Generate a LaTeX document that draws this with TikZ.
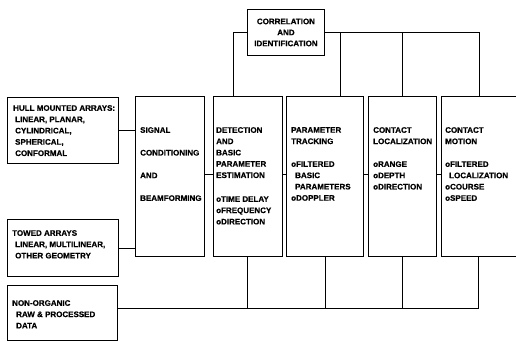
\documentclass[tikz,border=0pt]{standalone}
\usepackage{fontspec}
\setmainfont[FakeBold=0.6]{Liberation Sans}
\begin{document}
\begin{tikzpicture}[x=1pt,y=-1pt,
  box/.style={draw, line width=0.9pt, inner sep=0pt, anchor=north west},
  txt/.style={anchor=north west, inner sep=0pt, align=left, font=\fontsize{8}{11.3}\selectfont\bfseries},
  conn/.style={line width=0.9pt}]
\useasboundingbox (0,0) rectangle (516,342);
\clip (0,0) rectangle (516,342);
% boxes
\node[box, minimum width=77pt, minimum height=46pt, align=center,
      font=\fontsize{8}{11}\selectfont\bfseries] (corr) at (247,9) {CORRELATION\\AND\\IDENTIFICATION};
\node[box, minimum width=111pt, minimum height=66pt] (hull) at (7,97) {};
\node[box, minimum width=111pt, minimum height=57pt] (towed) at (7,219) {};
\node[box, minimum width=110pt, minimum height=55pt] (nonorg) at (7,285) {};
\node[box, minimum width=69pt, minimum height=160pt] (signal) at (135,96) {};
\node[box, minimum width=69pt, minimum height=160pt] (detect) at (213,96) {};
\node[box, minimum width=77pt, minimum height=160pt] (param) at (286,96) {};
\node[box, minimum width=68pt, minimum height=160pt] (loc) at (368,96) {};
\node[box, minimum width=85pt, minimum height=160pt] (motion) at (441,96) {};
% texts
\node[txt] (hullt) at (13,105) {HULL MOUNTED ARRAYS:\\\hspace*{2pt}LINEAR, PLANAR,\\\hspace*{2pt}CYLINDRICAL,\\\hspace*{2pt}SPHERICAL,\\\hspace*{2pt}CONFORMAL};
\node[txt] (towedt) at (12,230) {TOWED ARRAYS\\\hspace*{3pt}LINEAR, MULTILINEAR,\\\hspace*{3pt}OTHER GEOMETRY};
\node[txt] (nonorgt) at (12,300) {NON-ORGANIC\\\hspace*{4pt}RAW \& PROCESSED\\\hspace*{4pt}DATA};
\node[txt] (signalt) at (140,127) {SIGNAL\\[11.4pt]CONDITIONING\\[11.4pt]AND\\[11.4pt]BEAMFORMING};
\node[txt] (detectt) at (216,127) {DETECTION\\AND\\BASIC\\PARAMETER\\ESTIMATION\\[12.5pt]oTIME DELAY\\oFREQUENCY\\oDIRECTION};
\node[txt] (paramt) at (291,127) {PARAMETER\\TRACKING\\[11.5pt]oFILTERED\\\hspace*{4pt}BASIC\\\hspace*{4pt}PARAMETERS\\oDOPPLER};
\node[txt] (loct) at (373,127) {CONTACT\\LOCALIZATION\\[11.5pt]oRANGE\\oDEPTH\\oDIRECTION};
\node[txt] (motiont) at (445,127) {CONTACT\\MOTION\\[11.5pt]oFILTERED\\\hspace*{4pt}LOCALIZATION\\oCOURSE\\oSPEED};
% left inputs
\draw[conn] (hull.east) -- (hull.east -| signal.west);
\draw[conn] (towed.east) -- (towed.east -| signal.west);
% chain
\draw[conn] ([yshift=2pt]signal.east) -- ([yshift=2pt]detect.west);
\draw[conn] ([yshift=2pt]detect.east) -- ([yshift=2pt]param.west);
\draw[conn] ([yshift=2pt]param.east) -- ([yshift=2pt]loc.west);
\draw[conn] ([yshift=2pt]loc.east) -- ([yshift=2pt]motion.west);
% top correlation links
\coordinate (motT) at ([xshift=38pt]motion.north west);
\draw[conn] (corr.west) -| ([xshift=20pt]detect.north west);
\draw[conn] (corr.east) -| (motT);
\draw[conn] ([xshift=54pt]param.north west) -- ([xshift=54pt]param.north west |- corr.east);
\draw[conn] (loc.north) -- (loc.north |- corr.east);
% bottom bus
\coordinate (busL) at ([yshift=-23pt]nonorg.north east);
\coordinate (motB) at ([xshift=37pt]motion.south west);
\draw[conn] (busL) -| (motB);
\draw[conn] ([xshift=34pt]detect.south west) -- ([xshift=34pt]detect.south west |- busL);
\draw[conn] ([xshift=39pt]param.south west) -- ([xshift=39pt]param.south west |- busL);
\draw[conn] (loc.south) -- (loc.south |- busL);
\end{tikzpicture}
\end{document}
